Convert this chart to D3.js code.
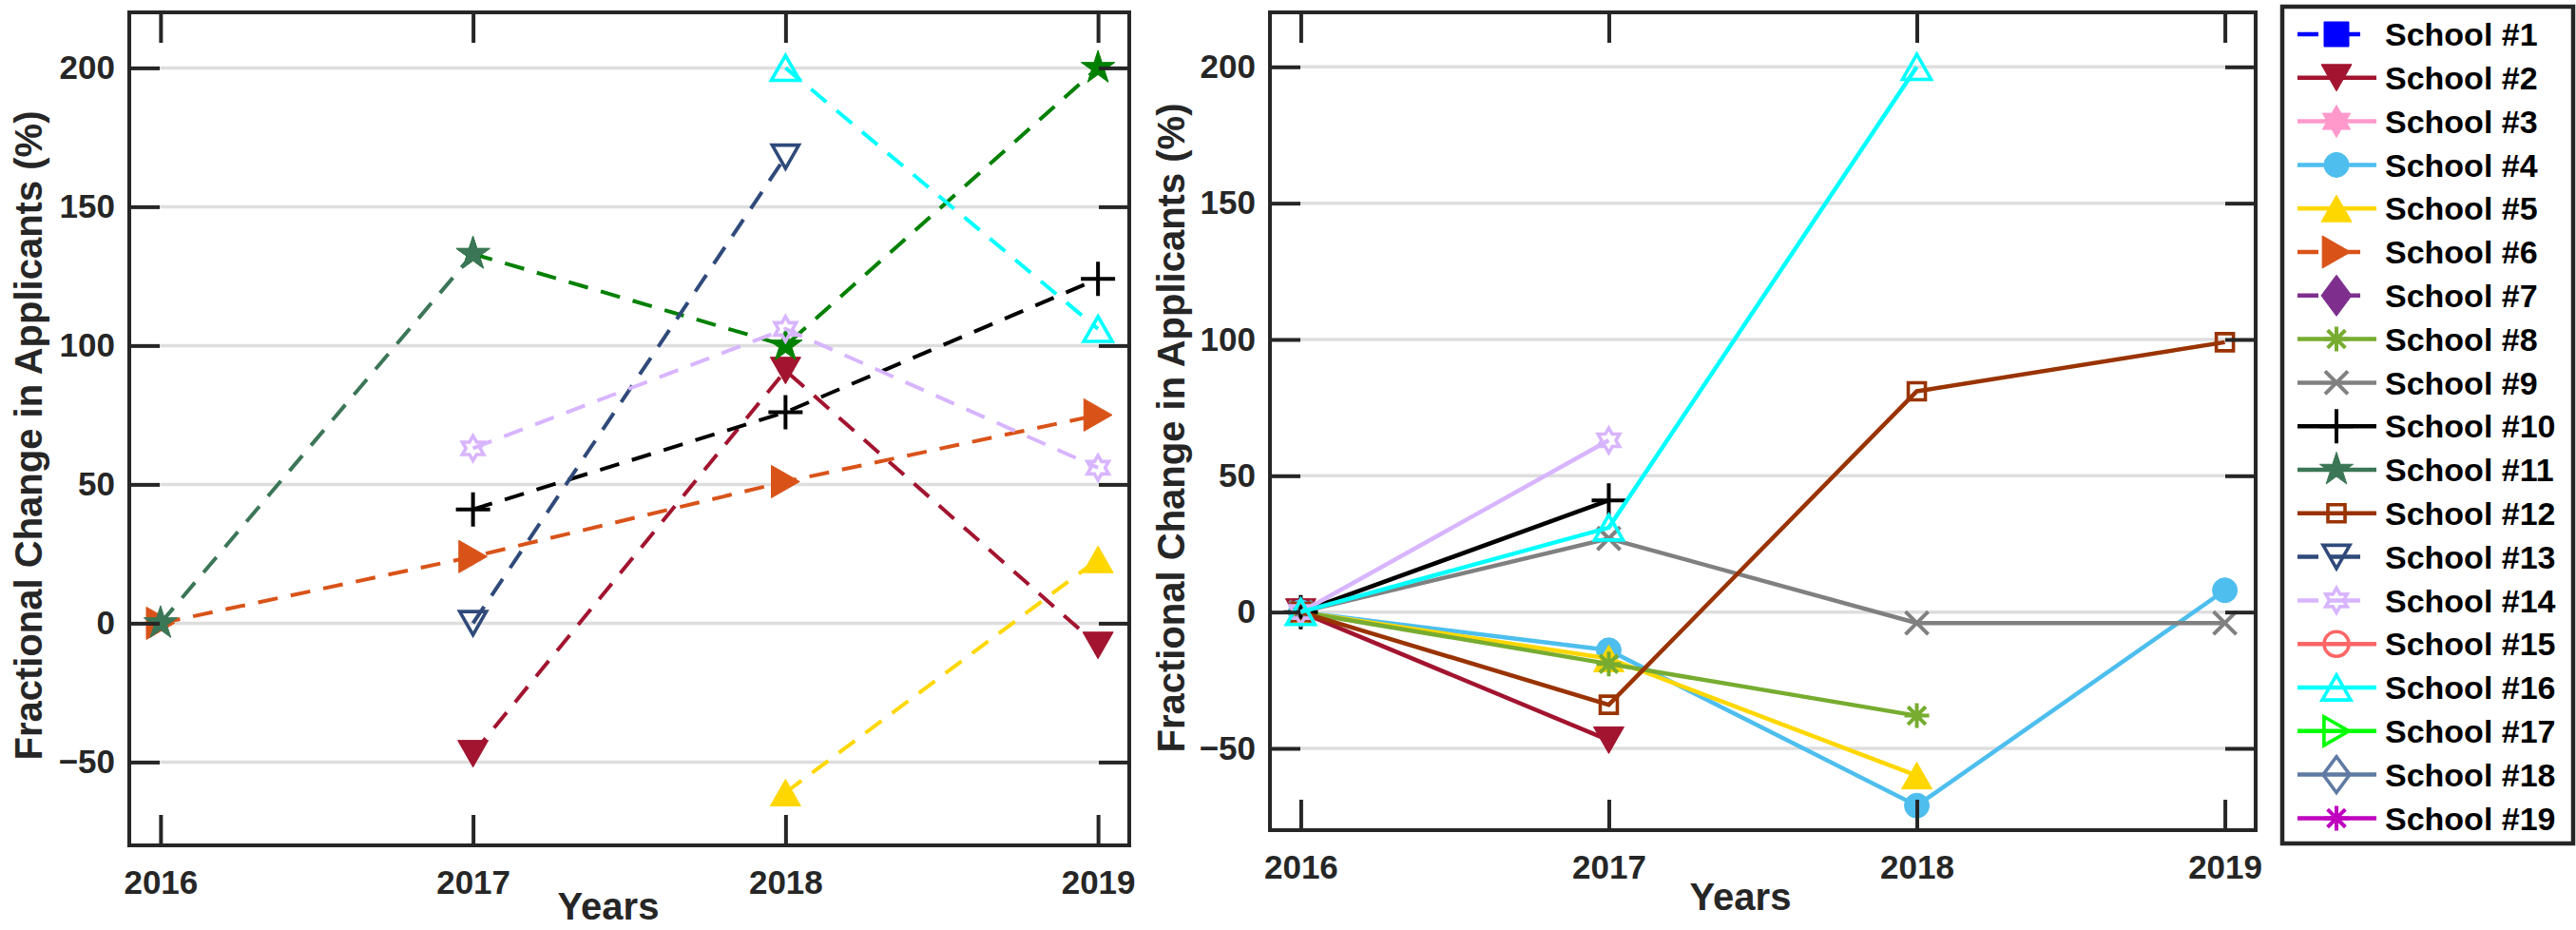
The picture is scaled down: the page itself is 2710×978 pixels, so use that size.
<!DOCTYPE html>
<html>
<head>
<meta charset="utf-8">
<script src="https://cdn.jsdelivr.net/npm/d3@7"></script>
<style>
  html, body { margin: 0; padding: 0; background: #ffffff; }
  svg { display: block; }
  text { font-family: "Liberation Sans", Arial, Helvetica, sans-serif; font-weight: bold; }
</style>
</head>
<body>
<svg id="chart" width="2710" height="978"></svg>
<script>
// ---------------- data ----------------
const years = [2016, 2017, 2018, 2019];
const yTicks = [-50, 0, 50, 100, 150, 200];
const yLabelText = "Fractional Change in Applicants (%)";
const xLabelText = "Years";

const schoolNames = ["School #1","School #2","School #3","School #4","School #5","School #6","School #7",
  "School #8","School #9","School #10","School #11","School #12","School #13","School #14","School #15",
  "School #16","School #17","School #18","School #19"];
const schoolColors = ["#0000FF","#A2142F","#FF99CC","#4DBEEE","#FFD700","#D95319","#7E2F8E",
  "#77AC30","#808080","#000000","#3B7656","#993300","#2F4A7A","#D8B5FF","#FF6666",
  "#00FFFF","#00FF00","#5F7AA3","#BF00BF"];
const schoolMarkers = ["square","triDown","hexagram","circle","triUp","triRight","diamond",
  "asterisk","x","plus","pentagram","squareOpen","triDownOpen","hexagramOpen","circleOpen",
  "triUpOpen","triRightOpen","diamondOpen","asterisk"];
const legendDashed = [true,false,false,false,false,true,true,false,false,false,false,false,true,true,false,false,false,false,false];

// Left panel (dashed lines)
const leftSchool2  = [null, -47, 91, -8];
const leftSchool5  = [null, null, -61, 23];
const leftSchool6  = [0, 24, 51, 75];
const leftSchool10 = [null, 41, 76, 124];
const leftSchool11 = [0, 133, null, null];
const leftGreen    = [null, 133, 100, 200];
const leftGreenColor = "#008000";
const leftSchool13 = [null, 0, 168, null];
const leftSchool14 = [null, 63, 106, 56];
const leftSchool16 = [null, null, 200, 106];

// Right panel (solid lines)
const rightSchool2  = [0, -47, null, null];
const rightSchool4  = [0, -14, -71, 8];
const rightSchool5  = [0, -17, -60, null];
const rightSchool8  = [0, -19, -38, null];
const rightSchool9  = [0, 27, -4, -4];
const rightSchool10 = [0, 41, null, null];
const rightSchool12 = [0, -34, 81, 99];
const rightSchool14 = [0, 63, null, null];
const rightSchool16 = [0, 31, 200, null];

// ---------------- styling ----------------
const AX = "#262626";
const GRID = "#dedede";
const markerR = [13,16,17,13,16,17,16,13,12,18,18.5,9,14,13,13,15,15,14,13];

function markerPath(type, R) {
  const base = type.replace("Open", "");
  const pts = [];
  switch (base) {
    case "square": return `M${-R},${-R}H${R}V${R}H${-R}Z`;
    case "circle": { const p = d3.path(); p.arc(0, 0, R, 0, 2 * Math.PI); p.closePath(); return p.toString(); }
    case "triUp": return `M0,${-0.875*R}L${R},${0.875*R}L${-R},${0.875*R}Z`;
    case "triDown": return `M0,${0.875*R}L${R},${-0.875*R}L${-R},${-0.875*R}Z`;
    case "triRight": return `M${0.875*R},0L${-0.875*R},${-R}L${-0.875*R},${R}Z`;
    case "diamond": return `M0,${-1.35*R}L${R},0L0,${1.35*R}L${-R},0Z`;
    case "hexagram":
      for (let k = 0; k < 12; k++) {
        const a = (-90 + k * 30) * Math.PI / 180;
        const r = (k % 2 === 0) ? R : R / Math.sqrt(3);
        pts.push([r * Math.cos(a), r * Math.sin(a)]);
      }
      return "M" + pts.map(p => p.join(",")).join("L") + "Z";
    case "pentagram":
      for (let k = 0; k < 10; k++) {
        const a = (-90 + k * 36) * Math.PI / 180;
        const r = (k % 2 === 0) ? R : R * 0.382;
        pts.push([r * Math.cos(a), r * Math.sin(a)]);
      }
      return "M" + pts.map(p => p.join(",")).join("L") + "Z";
    case "plus": return `M${-R},0H${R}M0,${-R}V${R}`;
    case "x": return `M${-R},${-R}L${R},${R}M${-R},${R}L${R},${-R}`;
    case "asterisk": {
      const d = R * 0.72;
      return `M${-R},0H${R}M0,${-R}V${R}M${-d},${-d}L${d},${d}M${-d},${d}L${d},${-d}`;
    }
  }
  return "";
}

function drawMarker(g, type, R, color, x, y) {
  const base = type.replace("Open", "");
  const isLine = ["plus","x","asterisk"].includes(base);
  const isOpen = type.endsWith("Open");
  const p = g.append("path").attr("d", markerPath(type, R))
    .attr("transform", `translate(${x},${y})`);
  if (isLine) p.attr("fill", "none").attr("stroke", color).attr("stroke-width", 4);
  else if (isOpen) p.attr("fill", "none").attr("stroke", color).attr("stroke-width", 3.6).attr("stroke-linejoin", "miter");
  else p.attr("fill", color).attr("stroke", color).attr("stroke-width", 1);
}

const svg = d3.select("#chart");
svg.append("rect").attr("width", 2710).attr("height", 978).attr("fill", "#fff");

function drawPanel(opt) {
  const { x, y, series, dashed, xLabelX, xLabelY, yLabelX, yLabelY } = opt;
  const [x0, x1] = x.range();
  const [y1, y0] = y.range();
  const g = svg.append("g");

  // grid
  g.selectAll("line.grid").data(yTicks).enter().append("line")
    .attr("x1", x0).attr("x2", x1).attr("y1", d => y(d)).attr("y2", d => y(d))
    .attr("stroke", GRID).attr("stroke-width", 3.5);

  // series
  const line = d3.line().defined(d => d.v !== null).x(d => x(d.t)).y(d => y(d.v));
  series.forEach(s => {
    const color = s.color || schoolColors[s.school - 1];
    const pts = years.map((t, i) => ({ t, v: s.values[i] }));
    g.append("path").attr("d", line(pts)).attr("fill", "none")
      .attr("stroke", color).attr("stroke-width", dashed ? 4 : 4.5)
      .attr("stroke-dasharray", dashed ? "21,14" : null);
    const type = schoolMarkers[s.school - 1];
    pts.filter(d => d.v !== null).forEach(d =>
      drawMarker(g, type, markerR[s.school - 1], color, x(d.t), y(d.v)));
  });

  // axes
  const styleAxis = a => {
    a.select(".domain").remove();
    a.selectAll(".tick line").attr("stroke", AX).attr("stroke-width", 4);
    a.selectAll(".tick text").attr("fill", AX).style("font-size", "35px").style("font-weight", "bold")
      .style("font-family", '"Liberation Sans", Arial, sans-serif');
  };
  g.append("g").attr("transform", `translate(0,${y1})`)
    .call(d3.axisBottom(x).tickValues(years).tickFormat(d3.format("d")).tickSize(-32).tickPadding(26))
    .call(styleAxis);
  g.append("g").attr("transform", `translate(0,${y0})`)
    .call(d3.axisTop(x).tickValues(years).tickFormat("").tickSize(-32))
    .call(styleAxis);
  g.append("g").attr("transform", `translate(${x0},0)`)
    .call(d3.axisLeft(y).tickValues(yTicks).tickFormat(d3.format("d")).tickSize(-32).tickPadding(15))
    .call(styleAxis);
  g.append("g").attr("transform", `translate(${x1},0)`)
    .call(d3.axisRight(y).tickValues(yTicks).tickFormat("").tickSize(-32))
    .call(styleAxis);
  g.append("rect").attr("x", x0).attr("y", y0).attr("width", x1 - x0).attr("height", y1 - y0)
    .attr("fill", "none").attr("stroke", AX).attr("stroke-width", 4);

  // labels
  g.append("text").attr("x", xLabelX).attr("y", xLabelY).attr("text-anchor", "middle")
    .attr("fill", AX).style("font-size", "40px").text(xLabelText);
  g.append("text").attr("transform", `translate(${yLabelX},${yLabelY}) rotate(-90)`)
    .attr("text-anchor", "middle").attr("fill", AX).style("font-size", "40px").text(yLabelText);
}

// Left panel
const xL = d3.scaleLinear().domain([2015.9, 2019.1]).range([136, 1188]);
const yL = d3.scaleLinear().domain([-80, 220]).range([889, 13]);
drawPanel({
  x: xL, y: yL, dashed: true,
  series: [
    { school: 2, values: leftSchool2 },
    { school: 5, values: leftSchool5 },
    { school: 6, values: leftSchool6 },
    { school: 10, values: leftSchool10 },
    { school: 11, values: leftGreen, color: leftGreenColor },
    { school: 11, values: leftSchool11 },
    { school: 13, values: leftSchool13 },
    { school: 14, values: leftSchool14 },
    { school: 16, values: leftSchool16 }
  ],
  xLabelX: 640, xLabelY: 967, yLabelX: 44, yLabelY: 458
});

// Right panel
const xR = d3.scaleLinear().domain([2015.9, 2019.1]).range([1336, 2373]);
const yR = d3.scaleLinear().domain([-80, 220]).range([873, 13]);
drawPanel({
  x: xR, y: yR, dashed: false,
  series: [
    { school: 2, values: rightSchool2 },
    { school: 4, values: rightSchool4 },
    { school: 5, values: rightSchool5 },
    { school: 8, values: rightSchool8 },
    { school: 9, values: rightSchool9 },
    { school: 10, values: rightSchool10 },
    { school: 12, values: rightSchool12 },
    { school: 14, values: rightSchool14 },
    { school: 16, values: rightSchool16 }
  ],
  xLabelX: 1831, xLabelY: 957, yLabelX: 1246, yLabelY: 450
});

// Legend
const lg = svg.append("g");
lg.append("rect").attr("x", 2401).attr("y", 7).attr("width", 306).attr("height", 880)
  .attr("fill", "#fff").attr("stroke", AX).attr("stroke-width", 4.5);
schoolNames.forEach((name, i) => {
  const cy = 36 + i * 45.8;
  const color = schoolColors[i];
  lg.append("line").attr("x1", 2417).attr("x2", legendDashed[i] ? 2483 : 2500)
    .attr("y1", cy).attr("y2", cy).attr("stroke", color).attr("stroke-width", 4.5)
    .attr("stroke-dasharray", legendDashed[i] ? "22,11,33,11" : null);
  drawMarker(lg, schoolMarkers[i], markerR[i], color, 2458, cy);
  lg.append("text").attr("x", 2509).attr("y", cy).attr("dy", "0.36em")
    .attr("fill", "#000").style("font-size", "34px").text(name);
});
</script>
</body>
</html>
